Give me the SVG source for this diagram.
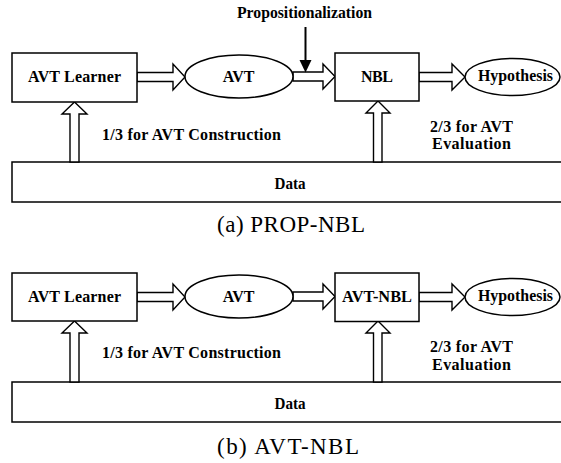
<svg xmlns="http://www.w3.org/2000/svg" width="561" height="463" viewBox="0 0 561 463">
  <style>
    .box { fill: #fff; stroke: #000; stroke-width: 1.5; }
    .arr { fill: #fff; stroke: #000; stroke-width: 1.4; stroke-linejoin: miter; }
    .lbl { font-family: "Liberation Serif", "Times New Roman", serif; font-weight: bold; font-size: 16px; text-anchor: middle; fill: #000; }
    .cap { font-family: "Liberation Serif", "Times New Roman", serif; font-size: 23px; fill: #000; }
  </style>
  <rect width="561" height="463" fill="#fff"/>

  <!-- (a) PROP-NBL -->
  <g id="fig-a">
    <g id="a-data">
      <rect class="box" x="12" y="162" width="560" height="40"/>
      <text class="lbl" x="290" y="188.5" textLength="31" lengthAdjust="spacingAndGlyphs">Data</text>
    </g>
    <g id="a-connectors">
      <polygon class="arr" points="137,72.5 173,72.5 173,64 185,77 173,90 173,81.5 137,81.5"/>
      <polygon class="arr" points="293,72 323,72 323,64 335,76.5 323,89 323,81 293,81"/>
      <polygon class="arr" points="419,72.5 452,72.5 452,64 465,77 452,90 452,81.5 419,81.5"/>
      <polygon class="arr" points="70,162 70,114 62,114 74.5,102 87,114 79,114 79,162"/>
      <polygon class="arr" points="373.5,162 373.5,113 366,113 378,101 390,113 382,113 382,162"/>
      <line x1="305.5" y1="27" x2="305.5" y2="61" stroke="#000" stroke-width="2"/>
      <polygon points="299.5,60 311.5,60 305.5,72.5" fill="#000"/>
    </g>
    <g id="a-avt-learner">
      <rect class="box" x="12" y="53" width="125" height="49"/>
      <text class="lbl" x="74.5" y="82" textLength="93" lengthAdjust="spacing">AVT Learner</text>
    </g>
    <g id="a-avt">
      <ellipse class="box" cx="239" cy="76.5" rx="54" ry="21.5"/>
      <text class="lbl" x="238.5" y="82">AVT</text>
    </g>
    <g id="a-nbl">
      <rect class="box" x="335" y="53" width="84" height="48"/>
      <text class="lbl" x="377" y="82" textLength="32" lengthAdjust="spacing">NBL</text>
    </g>
    <g id="a-hypothesis">
      <ellipse class="box" cx="512.5" cy="77" rx="47.5" ry="18.5"/>
      <text class="lbl" x="515.5" y="81" textLength="75" lengthAdjust="spacingAndGlyphs">Hypothesis</text>
    </g>
    <text class="lbl" x="304.5" y="18" textLength="135" lengthAdjust="spacingAndGlyphs">Propositionalization</text>
    <text class="lbl" x="191.5" y="140" textLength="179" lengthAdjust="spacing">1/3 for AVT Construction</text>
    <text class="lbl" x="471.5" y="131.5" textLength="83" lengthAdjust="spacing">2/3 for AVT</text>
    <text class="lbl" x="471.5" y="149" textLength="79" lengthAdjust="spacing">Evaluation</text>
    <text class="cap" x="217" y="232" textLength="148" lengthAdjust="spacing">(a) PROP-NBL</text>
  </g>

  <!-- (b) AVT-NBL -->
  <g id="fig-b">
    <g id="b-data">
      <rect class="box" x="12" y="382" width="560" height="40"/>
      <text class="lbl" x="290" y="408.5" textLength="31" lengthAdjust="spacingAndGlyphs">Data</text>
    </g>
    <g id="b-connectors">
      <polygon class="arr" points="137,292.5 173,292.5 173,284 185,297 173,310 173,301.5 137,301.5"/>
      <polygon class="arr" points="293,292 323,292 323,284 335,296.5 323,309 323,301 293,301"/>
      <polygon class="arr" points="419,292.5 452,292.5 452,284 465,297 452,310 452,301.5 419,301.5"/>
      <polygon class="arr" points="70,382 70,333 62,333 74.5,321 87,333 79,333 79,382"/>
      <polygon class="arr" points="373.5,382 373.5,333 366,333 378,321 390,333 382,333 382,382"/>
    </g>
    <g id="b-avt-learner">
      <rect class="box" x="12" y="273" width="125" height="48"/>
      <text class="lbl" x="74.5" y="302" textLength="93" lengthAdjust="spacing">AVT Learner</text>
    </g>
    <g id="b-avt">
      <ellipse class="box" cx="239" cy="296.5" rx="54" ry="21.5"/>
      <text class="lbl" x="238.5" y="302">AVT</text>
    </g>
    <g id="b-avt-nbl">
      <rect class="box" x="335" y="273" width="84" height="48.5"/>
      <text class="lbl" x="377" y="302" textLength="70" lengthAdjust="spacingAndGlyphs">AVT-NBL</text>
    </g>
    <g id="b-hypothesis">
      <ellipse class="box" cx="512.5" cy="297" rx="47.5" ry="18.5"/>
      <text class="lbl" x="515.5" y="301" textLength="75" lengthAdjust="spacingAndGlyphs">Hypothesis</text>
    </g>
    <text class="lbl" x="191.5" y="358" textLength="179" lengthAdjust="spacing">1/3 for AVT Construction</text>
    <text class="lbl" x="471.5" y="352" textLength="83" lengthAdjust="spacing">2/3 for AVT</text>
    <text class="lbl" x="471.5" y="369.5" textLength="79" lengthAdjust="spacing">Evaluation</text>
    <text class="cap" x="217" y="454" textLength="142" lengthAdjust="spacing">(b) AVT-NBL</text>
  </g>
</svg>
